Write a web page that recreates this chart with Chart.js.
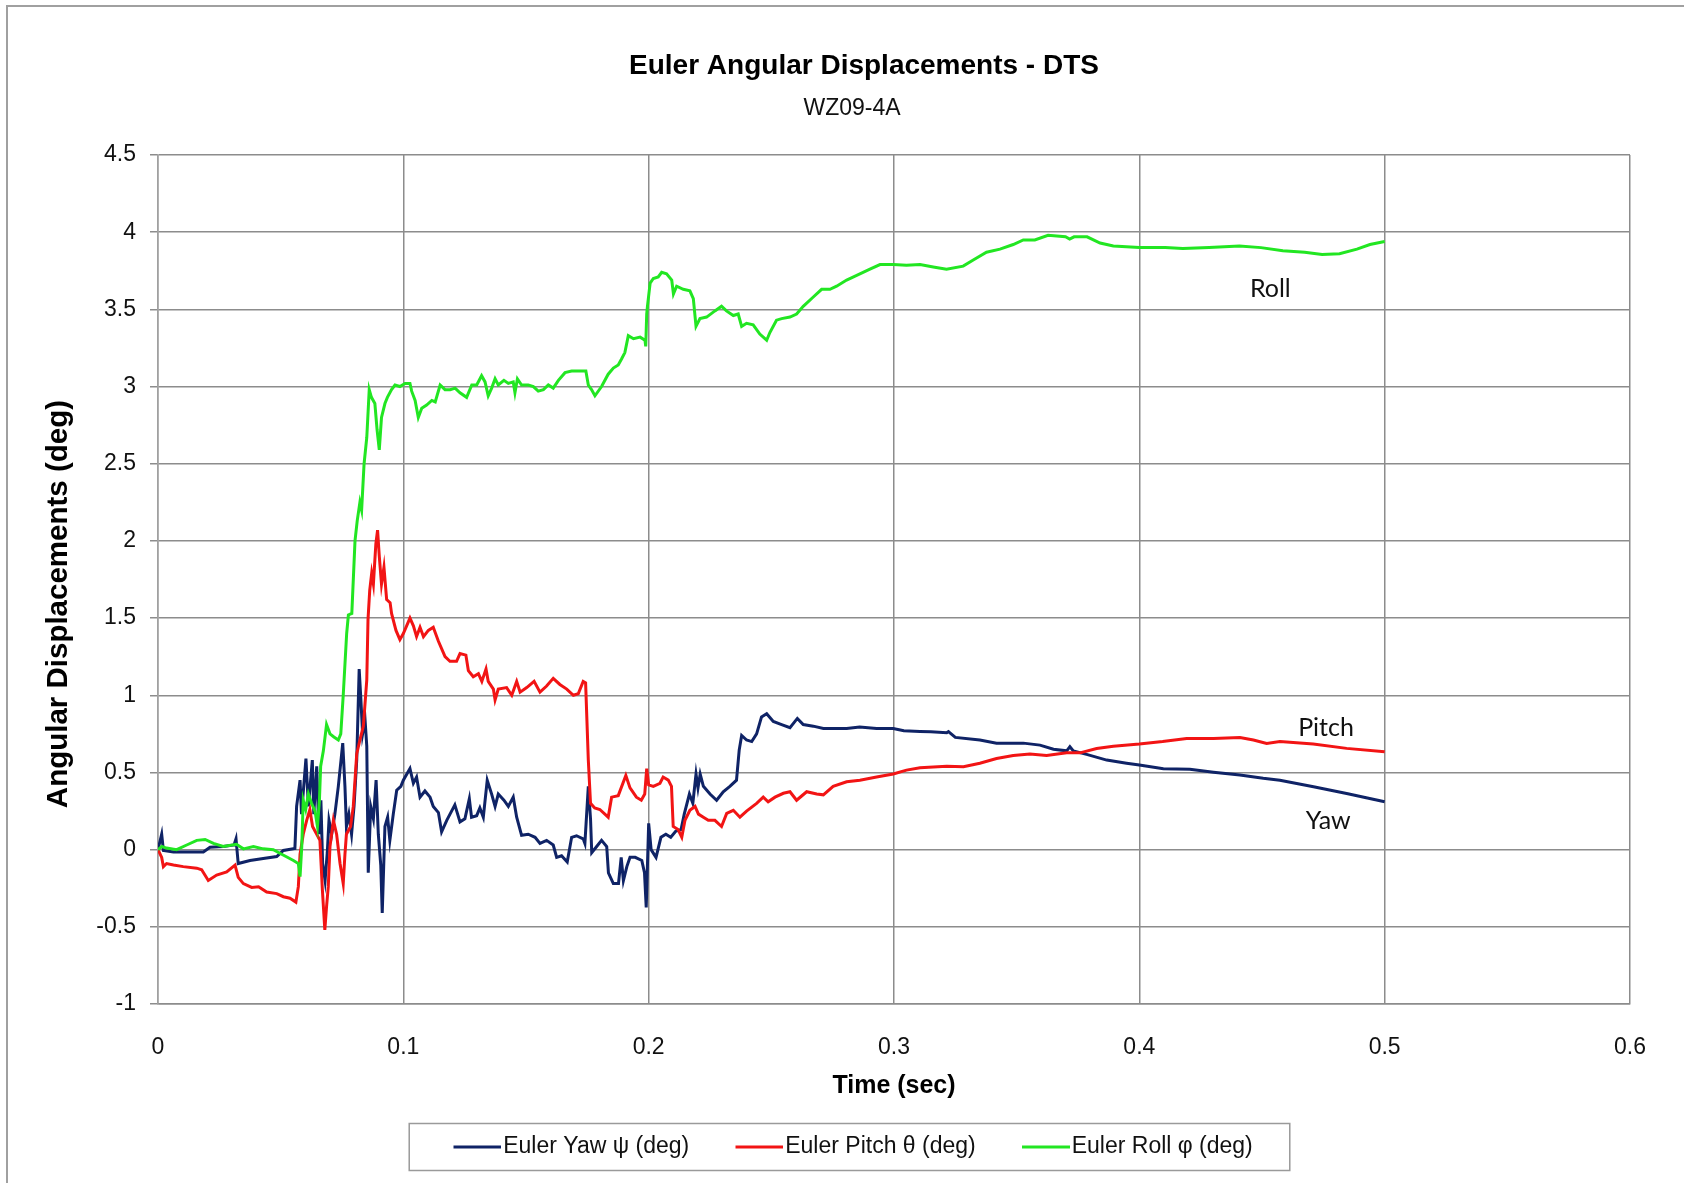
<!DOCTYPE html>
<html><head><meta charset="utf-8">
<script src="https://cdn.jsdelivr.net/npm/chart.js@4.4.1/dist/chart.umd.min.js"></script>
<style>html,body{margin:0;padding:0;background:#fff;}canvas{display:block;}</style>
</head><body>
<canvas id="c" width="1684" height="1183"></canvas>
<script>
const titleText = 'Euler Angular Displacements - DTS';
const subtitleText = 'WZ09-4A';
const xAxisTitle = 'Time (sec)';
const yAxisTitle = 'Angular Displacements (deg)';
const seriesNames = ['Euler Yaw ψ (deg)', 'Euler Pitch θ (deg)', 'Euler Roll φ (deg)'];
const seriesColors = ['#0f2366', '#f21414', '#22e622'];
const curveLabels = ['Yaw', 'Pitch', 'Roll'];
const curveLabelT = [0.477, 0.4761, 0.4534];
const curveLabelV = [0.188, 0.787, 3.63];
const xTickValues = [0, 0.1, 0.2, 0.3, 0.4, 0.5, 0.6];
const xTickLabels = ['0', '0.1', '0.2', '0.3', '0.4', '0.5', '0.6'];
const yTickValues = [-1, -0.5, 0, 0.5, 1, 1.5, 2, 2.5, 3, 3.5, 4, 4.5];
const yTickLabels = ['-1', '-0.5', '0', '0.5', '1', '1.5', '2', '2.5', '3', '3.5', '4', '4.5'];

// [time (sec), angle (deg)]
const yawPoints = [[0,0],[0.0015,0.1],[0.0022,-0.005],[0.0063,-0.015],[0.0122,-0.015],[0.0185,-0.015],[0.0212,0.015],[0.0266,0.02],[0.031,0.03],[0.0318,0.07],[0.0327,-0.09],[0.0375,-0.07],[0.0429,-0.057],[0.0484,-0.045],[0.0511,-0.005],[0.0558,0.008],[0.0565,0.28],[0.0579,0.45],[0.0585,0.23],[0.0603,0.59],[0.0613,0.28],[0.0629,0.58],[0.0635,0.23],[0.0647,0.54],[0.0656,0.1],[0.0664,0.32],[0.0671,-0.09],[0.0681,-0.2],[0.069,-0.02],[0.0697,0.19],[0.0708,0.1],[0.0721,0.23],[0.0735,0.41],[0.0746,0.58],[0.0753,0.69],[0.0762,0.41],[0.0768,0.15],[0.0778,0.23],[0.0789,0.1],[0.0799,0.28],[0.081,0.58],[0.082,1.17],[0.0827,0.97],[0.0834,0.75],[0.0844,0.84],[0.0851,0.67],[0.0857,-0.15],[0.0867,0.28],[0.0878,0.2],[0.0889,0.45],[0.0898,0.1],[0.0908,-0.1],[0.0914,-0.41],[0.0925,0.15],[0.0936,0.21],[0.0945,0.06],[0.0959,0.23],[0.0973,0.385],[0.099,0.41],[0.1,0.45],[0.1027,0.525],[0.1041,0.43],[0.1054,0.47],[0.1068,0.34],[0.1088,0.38],[0.1109,0.34],[0.1122,0.28],[0.1143,0.24],[0.1156,0.115],[0.1177,0.19],[0.121,0.29],[0.1231,0.18],[0.1251,0.2],[0.1269,0.33],[0.1278,0.21],[0.1299,0.22],[0.1312,0.27],[0.1326,0.21],[0.1342,0.45],[0.136,0.36],[0.1374,0.28],[0.1387,0.36],[0.141,0.32],[0.1428,0.28],[0.1448,0.34],[0.1462,0.21],[0.1482,0.093],[0.1509,0.1],[0.1537,0.08],[0.1557,0.04],[0.1584,0.06],[0.1611,0.03],[0.1625,-0.05],[0.1645,-0.04],[0.1668,-0.08],[0.1686,0.08],[0.1706,0.09],[0.1733,0.07],[0.174,0.04],[0.1754,0.41],[0.1763,0.2],[0.1768,-0.02],[0.1788,0.02],[0.1808,0.06],[0.1829,0.02],[0.1836,-0.15],[0.1856,-0.22],[0.1877,-0.22],[0.1888,-0.05],[0.1897,-0.2],[0.1911,-0.11],[0.1924,-0.05],[0.1945,-0.05],[0.1972,-0.07],[0.1983,-0.15],[0.199,-0.375],[0.2,0.17],[0.201,0.0],[0.203,-0.05],[0.205,0.08],[0.207,0.1],[0.209,0.08],[0.2111,0.12],[0.2132,0.13],[0.2145,0.23],[0.2166,0.36],[0.218,0.3],[0.2193,0.49],[0.2201,0.4],[0.221,0.49],[0.2223,0.41],[0.225,0.36],[0.2277,0.32],[0.2304,0.375],[0.2331,0.41],[0.2358,0.45],[0.2369,0.645],[0.2379,0.74],[0.2399,0.71],[0.242,0.7],[0.244,0.75],[0.246,0.86],[0.2481,0.88],[0.2508,0.83],[0.2542,0.81],[0.2576,0.79],[0.2606,0.85],[0.263,0.81],[0.2671,0.8],[0.2712,0.785],[0.2752,0.785],[0.2807,0.785],[0.286,0.795],[0.2929,0.785],[0.2997,0.785],[0.304,0.77],[0.3106,0.765],[0.315,0.763],[0.3215,0.757],[0.3222,0.765],[0.325,0.727],[0.335,0.71],[0.3418,0.69],[0.3527,0.69],[0.3595,0.677],[0.365,0.65],[0.3704,0.64],[0.3717,0.667],[0.3731,0.64],[0.3785,0.617],[0.3867,0.58],[0.3948,0.56],[0.4,0.548],[0.4098,0.524],[0.4206,0.52],[0.4302,0.502],[0.441,0.483],[0.4505,0.462],[0.4573,0.45],[0.471,0.407],[0.4845,0.364],[0.5,0.31]];

const pitchPoints = [[0,0],[0.0015,-0.05],[0.0022,-0.11],[0.0035,-0.09],[0.0063,-0.1],[0.0103,-0.11],[0.0158,-0.12],[0.0178,-0.13],[0.0205,-0.2],[0.0239,-0.165],[0.028,-0.145],[0.0314,-0.1],[0.0327,-0.18],[0.0348,-0.22],[0.0382,-0.245],[0.041,-0.24],[0.0443,-0.275],[0.0484,-0.285],[0.0511,-0.305],[0.0538,-0.315],[0.0562,-0.34],[0.0572,-0.24],[0.0579,-0.03],[0.0592,0.1],[0.0606,0.19],[0.0619,0.26],[0.063,0.15],[0.0647,0.1],[0.066,0.06],[0.067,-0.26],[0.068,-0.52],[0.0687,-0.37],[0.0694,-0.24],[0.0701,0.02],[0.0715,0.19],[0.0728,0.1],[0.0742,-0.09],[0.0755,-0.22],[0.0762,-0.03],[0.0768,0.1],[0.0785,0.15],[0.0796,0.28],[0.081,0.62],[0.0823,0.71],[0.0837,0.8],[0.0851,1.1],[0.0856,1.49],[0.0863,1.68],[0.0871,1.79],[0.0878,1.72],[0.0888,1.98],[0.0895,2.07],[0.0902,1.9],[0.0911,1.72],[0.0921,1.83],[0.0932,1.62],[0.0946,1.6],[0.0952,1.53],[0.097,1.42],[0.0986,1.36],[0.1,1.4],[0.1027,1.5],[0.1041,1.45],[0.1054,1.38],[0.1068,1.44],[0.1082,1.38],[0.1102,1.42],[0.1122,1.44],[0.1143,1.35],[0.117,1.25],[0.119,1.22],[0.1217,1.22],[0.1231,1.27],[0.1255,1.26],[0.1265,1.16],[0.1285,1.12],[0.1306,1.14],[0.132,1.09],[0.1337,1.17],[0.1346,1.09],[0.1367,1.04],[0.1374,0.97],[0.1387,1.04],[0.1421,1.05],[0.1442,1.0],[0.1462,1.09],[0.1476,1.02],[0.1503,1.05],[0.1533,1.09],[0.1557,1.02],[0.1584,1.06],[0.1611,1.11],[0.1638,1.07],[0.1666,1.04],[0.1693,1.0],[0.1713,1.01],[0.1733,1.09],[0.1743,1.08],[0.1754,0.58],[0.1763,0.3],[0.178,0.27],[0.1801,0.26],[0.1835,0.21],[0.1849,0.34],[0.1876,0.35],[0.1907,0.48],[0.1924,0.4],[0.195,0.34],[0.197,0.32],[0.1984,0.36],[0.1992,0.525],[0.2,0.42],[0.2019,0.41],[0.2046,0.43],[0.2059,0.47],[0.208,0.45],[0.2093,0.41],[0.21,0.15],[0.212,0.13],[0.2135,0.08],[0.2148,0.19],[0.2168,0.255],[0.2189,0.28],[0.2203,0.23],[0.2223,0.21],[0.2243,0.19],[0.227,0.19],[0.2297,0.15],[0.2318,0.235],[0.2345,0.255],[0.2372,0.21],[0.2399,0.25],[0.244,0.3],[0.2467,0.34],[0.2487,0.31],[0.2515,0.34],[0.2549,0.365],[0.2576,0.375],[0.2603,0.32],[0.2644,0.375],[0.2685,0.36],[0.2712,0.355],[0.2752,0.41],[0.2807,0.44],[0.2861,0.45],[0.2929,0.47],[0.2997,0.49],[0.3051,0.515],[0.3106,0.53],[0.3215,0.54],[0.3283,0.537],[0.335,0.56],[0.3418,0.59],[0.3486,0.61],[0.3554,0.62],[0.3622,0.61],[0.3704,0.627],[0.3758,0.627],[0.3826,0.655],[0.3894,0.67],[0.4,0.684],[0.4095,0.7],[0.4193,0.72],[0.4302,0.72],[0.441,0.727],[0.4465,0.71],[0.4519,0.688],[0.4573,0.7],[0.4709,0.684],[0.4845,0.656],[0.5,0.634]];

const rollPoints = [[0,0],[0.0015,0.02],[0.0035,0.01],[0.0076,0.0],[0.0117,0.03],[0.0158,0.06],[0.0192,0.066],[0.0226,0.04],[0.0266,0.02],[0.032,0.035],[0.0348,0.005],[0.0389,0.02],[0.0429,0.005],[0.047,0.0],[0.051,-0.035],[0.0552,-0.07],[0.0572,-0.09],[0.0579,-0.175],[0.0586,0.02],[0.0592,0.32],[0.0602,0.26],[0.0613,0.36],[0.0626,0.3],[0.064,0.25],[0.065,0.15],[0.0658,0.32],[0.0663,0.54],[0.0674,0.64],[0.0687,0.81],[0.0701,0.75],[0.0717,0.73],[0.0735,0.71],[0.0745,0.75],[0.0755,1.0],[0.0769,1.4],[0.0776,1.52],[0.079,1.53],[0.0803,2.0],[0.0812,2.13],[0.0823,2.25],[0.083,2.2],[0.084,2.5],[0.0851,2.67],[0.0861,2.98],[0.087,2.93],[0.0884,2.89],[0.0893,2.72],[0.0902,2.59],[0.0911,2.8],[0.0925,2.89],[0.0935,2.93],[0.0952,2.98],[0.0966,3.01],[0.0986,3.0],[0.1007,3.02],[0.1027,3.02],[0.1034,2.97],[0.1048,2.91],[0.1061,2.8],[0.1075,2.86],[0.1095,2.88],[0.1116,2.91],[0.113,2.9],[0.115,3.01],[0.117,2.98],[0.1191,2.98],[0.1211,2.99],[0.1231,2.96],[0.1258,2.93],[0.1279,3.01],[0.1299,3.01],[0.1319,3.07],[0.1333,3.03],[0.1346,2.94],[0.136,2.99],[0.1374,3.05],[0.1387,3.01],[0.141,3.04],[0.1428,3.02],[0.1448,3.03],[0.1455,2.96],[0.1465,3.05],[0.1482,3.01],[0.1509,3.01],[0.153,3.0],[0.155,2.97],[0.1571,2.98],[0.1591,3.01],[0.1611,2.99],[0.1632,3.04],[0.1659,3.09],[0.1686,3.1],[0.172,3.1],[0.1744,3.1],[0.1754,3.01],[0.1767,2.98],[0.1781,2.94],[0.1808,3.0],[0.1835,3.08],[0.1856,3.12],[0.1876,3.14],[0.189,3.18],[0.1903,3.22],[0.1917,3.33],[0.1938,3.31],[0.1965,3.32],[0.1985,3.3],[0.1988,3.26],[0.1992,3.47],[0.1995,3.52],[0.2006,3.67],[0.2019,3.7],[0.2039,3.71],[0.2053,3.74],[0.2073,3.73],[0.2094,3.69],[0.2101,3.6],[0.2114,3.65],[0.2141,3.63],[0.2168,3.62],[0.2182,3.57],[0.2193,3.39],[0.2209,3.44],[0.2236,3.45],[0.227,3.49],[0.2297,3.52],[0.2317,3.49],[0.2345,3.46],[0.2365,3.47],[0.2379,3.39],[0.2399,3.41],[0.2426,3.4],[0.2453,3.34],[0.2481,3.3],[0.2494,3.35],[0.2521,3.43],[0.2542,3.44],[0.2576,3.45],[0.2603,3.47],[0.263,3.52],[0.2671,3.58],[0.2705,3.63],[0.2739,3.63],[0.2766,3.65],[0.2807,3.69],[0.2848,3.72],[0.2902,3.76],[0.2943,3.79],[0.2997,3.79],[0.3051,3.785],[0.3106,3.79],[0.316,3.775],[0.3214,3.76],[0.3282,3.78],[0.3323,3.82],[0.3377,3.87],[0.3432,3.89],[0.3486,3.92],[0.3527,3.95],[0.3574,3.95],[0.3628,3.98],[0.3699,3.97],[0.3716,3.955],[0.3734,3.97],[0.3787,3.97],[0.384,3.93],[0.3894,3.91],[0.4,3.9],[0.4106,3.9],[0.4177,3.895],[0.4284,3.9],[0.4408,3.91],[0.4496,3.9],[0.4585,3.88],[0.4674,3.87],[0.4745,3.855],[0.4816,3.86],[0.4887,3.89],[0.494,3.92],[0.5,3.94]];

const SANS = "'Liberation Sans', Arial, sans-serif";
const toXY = pts => pts.map(p => ({x: p[0], y: p[1]}));

function legendLine(color) {
  const c = document.createElement('canvas');
  c.width = 94; c.height = 6;
  const g = c.getContext('2d');
  g.strokeStyle = color; g.lineWidth = 3;
  g.beginPath(); g.moveTo(46, 3); g.lineTo(94, 3); g.stroke();
  return c;
}

const framePlugin = {
  id: 'frame',
  beforeDraw(chart) {
    const ctx = chart.ctx;
    ctx.save();
    ctx.fillStyle = '#fff';
    ctx.fillRect(0, 0, chart.width, chart.height);
    ctx.strokeStyle = '#a0a0a0';
    ctx.lineWidth = 2;
    ctx.strokeRect(7, 6, chart.width + 20, chart.height + 20);
    ctx.restore();
  }
};

const shiftPlugin = {
  id: 'shiftBlocks',
  afterLayout(chart) {
    const setCenter = (b, c) => { const w = b.right - b.left; b.left = c - w / 2; b.right = c + w / 2; };
    chart.boxes.forEach(b => {
      if (b === chart.titleBlock) setCenter(b, 864);
      else if (b === chart.legend) setCenter(b, 835);
      else if (b.options && b.options.text === subtitleText) setCenter(b, 852);
    });
  }
};

const decorPlugin = {
  id: 'decor',
  afterDatasetsDraw(chart) {
    const ctx = chart.ctx, xs = chart.scales.x, ys = chart.scales.y;
    ctx.save();
    ctx.font = '25px Lato, "Open Sans", sans-serif';
    ctx.fillStyle = '#111';
    ctx.textAlign = 'center';
    ctx.textBaseline = 'middle';
    curveLabels.forEach((t, i) => {
      ctx.fillText(t, xs.getPixelForValue(curveLabelT[i]), ys.getPixelForValue(curveLabelV[i]));
    });
    ctx.restore();
  },
  afterDraw(chart) {
    const lg = chart.legend, hb = lg.legendHitBoxes;
    if (!hb || !hb.length) return;
    const ctx = chart.ctx;
    const left = hb[0].left - 8;
    const last = hb[hb.length - 1];
    const right = last.left + last.width + 37;
    ctx.save();
    ctx.strokeStyle = '#9a9a9a';
    ctx.lineWidth = 1.5;
    ctx.strokeRect(left, lg.top - 2, right - left, lg.bottom - lg.top + 4);
    ctx.restore();
  }
};

const gridColor = '#8c8c8c';

new Chart(document.getElementById('c'), {
  type: 'line',
  data: {
    datasets: [
      {label: seriesNames[0], data: toXY(yawPoints), borderColor: seriesColors[0], backgroundColor: seriesColors[0], borderWidth: 3, pointRadius: 0, tension: 0, order: 2},
      {label: seriesNames[1], data: toXY(pitchPoints), borderColor: seriesColors[1], backgroundColor: seriesColors[1], borderWidth: 3, pointRadius: 0, tension: 0, order: 1},
      {label: seriesNames[2], data: toXY(rollPoints), borderColor: seriesColors[2], backgroundColor: seriesColors[2], borderWidth: 3, pointRadius: 0, tension: 0, order: 0}
    ]
  },
  options: {
    responsive: false,
    animation: false,
    devicePixelRatio: 1,
    layout: {padding: {left: 10, right: 54, top: 0, bottom: 14.5}},
    plugins: {
      title: {display: true, text: titleText, color: '#000', font: {family: SANS, size: 28, weight: 'bold'}, padding: {top: 49.5, bottom: 0}},
      subtitle: {display: true, text: subtitleText, color: '#111', font: {family: SANS, size: 23}, padding: {top: 11.5, bottom: 32.8}},
      legend: {
        position: 'bottom',
        labels: {
          usePointStyle: true,
          pointStyleWidth: 74.5,
          padding: 10,
          color: '#111',
          font: {family: SANS, size: 23},
          sort: (a, b) => a.datasetIndex - b.datasetIndex,
          generateLabels(chart) {
            const items = Chart.defaults.plugins.legend.labels.generateLabels(chart);
            items.forEach(it => { it.pointStyle = legendLine(seriesColors[it.datasetIndex]); });
            return items;
          }
        }
      },
      tooltip: {enabled: false}
    },
    scales: {
      x: {
        type: 'linear', min: 0, max: 0.6,
        afterBuildTicks: s => { s.ticks = xTickValues.map(v => ({value: v})); },
        afterFit: s => { s.height = 121.5; },
        ticks: {callback: (v, i) => xTickLabels[i], color: '#111', font: {family: SANS, size: 23}, padding: 30, maxRotation: 0, autoSkip: false},
        grid: {color: gridColor, lineWidth: 1.5, drawTicks: false},
        border: {color: gridColor, width: 1.5},
        title: {display: true, text: xAxisTitle, color: '#000', font: {family: SANS, size: 25, weight: 'bold'}, padding: {top: 0, bottom: 24.5}}
      },
      y: {
        type: 'linear', min: -1, max: 4.5,
        afterBuildTicks: s => { s.ticks = yTickValues.map(v => ({value: v})); },
        afterFit: s => { s.width = 148; },
        ticks: {callback: (v, i) => yTickLabels[i], color: '#111', font: {family: SANS, size: 23}, padding: 14, autoSkip: false},
        grid: {color: gridColor, lineWidth: 1.5, tickLength: 8},
        border: {color: '#a0a0a0', width: 1.5},
        title: {display: true, text: yAxisTitle + '      ', color: '#000', font: {family: SANS, size: 29.5, weight: 'bold'}, padding: {top: 31.3, bottom: 0}}
      }
    }
  },
  plugins: [framePlugin, shiftPlugin, decorPlugin]
});
</script>
</body></html>
